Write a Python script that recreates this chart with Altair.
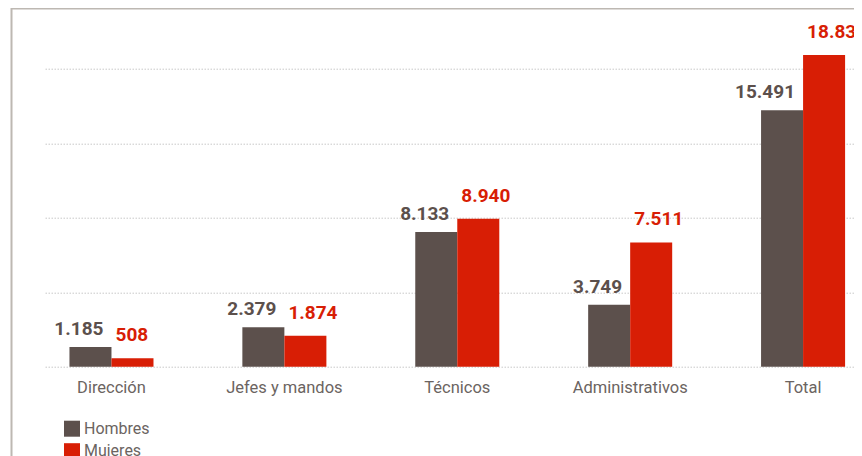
import altair as alt
import pandas as pd

categories = ["Dirección", "Jefes y mandos", "Técnicos", "Administrativos", "Total"]
hombres = [1185, 2379, 8133, 3749, 15491]
mujeres = [508, 1874, 8940, 7511, 18833]
series = ["Hombres", "Mujeres"]
grid_values = [0, 4500, 9000, 13500, 18000]


def fmt(v):
    return f"{v:,}".replace(",", ".")


rows = []
for c, h, m in zip(categories, hombres, mujeres):
    rows.append({"cat": c, "serie": "Hombres", "valor": h, "label": fmt(h)})
    rows.append({"cat": c, "serie": "Mujeres", "valor": m, "label": fmt(m)})
df = pd.DataFrame(rows)

GREY = "#5c504c"
RED = "#d81e05"
FONT = "Roboto"

xscale = alt.Scale(domain=categories, paddingInner=0.514, paddingOuter=0.0965, align=0.733)
yscale = alt.Scale(domain=[0, 20000], nice=False, zero=True)
color = alt.Color(
    "serie:N",
    scale=alt.Scale(domain=series, range=[GREY, RED]),
    legend=alt.Legend(
        title=None,
        orient="none",
        legendX=19,
        legendY=385,
        symbolType="square",
        symbolSize=256,
        symbolStrokeWidth=0,
        symbolOpacity=1,
        labelFont=FONT,
        labelFontSize=16,
        labelColor="#6b6461",
        labelOffset=4,
        rowPadding=6.5,
        padding=0,
        direction="vertical",
    ),
)

base = alt.Chart(df)

bars = base.mark_bar(opacity=1).encode(
    x=alt.X(
        "cat:N",
        scale=xscale,
        sort=categories,
        axis=alt.Axis(
            title=None,
            domain=False,
            ticks=False,
            tickSize=0,
            labelAngle=0,
            labelFont=FONT,
            labelFontSize=16.5,
            labelColor="#6b6461",
            labelBaseline="alphabetic",
            labelPadding=26,
            grid=False,
        ),
    ),
    xOffset=alt.XOffset("serie:N", sort=series, scale=alt.Scale(paddingInner=0, paddingOuter=0)),
    y=alt.Y(
        "valor:Q",
        scale=yscale,
        axis=alt.Axis(
            title=None,
            labels=False,
            ticks=False,
            domain=False,
            grid=True,
            values=grid_values,
            gridColor="#c8c8c8",
            gridDash=[1.5, 1.5],
            gridWidth=1,
        ),
    ),
    color=color,
)

lab_h = base.transform_filter(alt.datum.serie == "Hombres").mark_text(
    font=FONT, fontSize=19, fontWeight="bold", color=GREY, align="right", baseline="alphabetic", dx=13, dy=-12
).encode(
    x=alt.X("cat:N", scale=xscale, sort=categories),
    xOffset=alt.XOffset("serie:N", sort=series),
    y=alt.Y("valor:Q", scale=yscale),
    text="label:N",
)

lab_m = base.transform_filter(alt.datum.serie == "Mujeres").mark_text(
    font=FONT, fontSize=19, fontWeight="bold", color=RED, align="left", baseline="alphabetic", dx=-17, dy=-17
).encode(
    x=alt.X("cat:N", scale=xscale, sort=categories),
    xOffset=alt.XOffset("serie:N", sort=series),
    y=alt.Y("valor:Q", scale=yscale),
    text="label:N",
)

frame_top = alt.Chart(pd.DataFrame({"a": [0]})).mark_rule(color="#bdb8b2", strokeWidth=2).encode(
    x=alt.value(-34), x2=alt.value(900), y=alt.value(-27.2)
)
frame_left = alt.Chart(pd.DataFrame({"a": [0]})).mark_rule(color="#bdb8b2", strokeWidth=2).encode(
    x=alt.value(-33.5), y=alt.value(-28), y2=alt.value(500)
)

chart = (
    alt.layer(bars, lab_h, lab_m, frame_top, frame_left)
    .properties(
        width=809,
        height=331,
        padding={"left": 37, "top": 27.7, "right": 0, "bottom": 89.3},
        autosize=alt.AutoSizeParams(type="none"),
        background="white",
    )
    .configure_view(stroke="transparent", strokeWidth=0)
)

chart.save("out.html", embed_options={"renderer": "svg", "actions": False})
